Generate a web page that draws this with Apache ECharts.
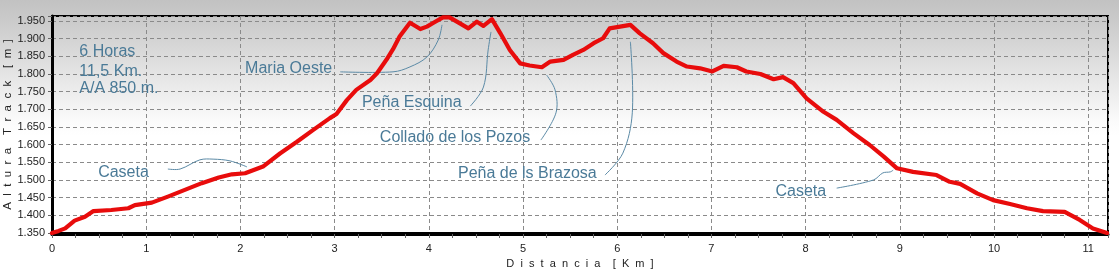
<!DOCTYPE html>
<html><head><meta charset="utf-8">
<script src="https://cdn.jsdelivr.net/npm/echarts@6/dist/echarts.min.js"></script>
<style>html,body{margin:0;padding:0;background:#fff}#c{width:1119px;height:271px}</style>
</head><body><div id="c"></div>
<script>
// Track profile: distance (km) and altitude (m)
const distKm = [0.00,0.07,0.14,0.24,0.35,0.44,0.63,0.81,0.88,1.06,1.23,1.41,1.59,1.77,1.91,2.05,2.24,2.42,2.60,2.77,2.95,3.02,3.13,3.23,3.38,3.45,3.55,3.62,3.69,3.80,3.91,3.98,4.05,4.15,4.22,4.33,4.42,4.51,4.58,4.67,4.76,4.86,4.97,5.07,5.20,5.29,5.43,5.53,5.64,5.75,5.85,5.92,6.03,6.14,6.24,6.38,6.49,6.63,6.74,6.88,7.01,7.13,7.27,7.37,7.52,7.66,7.76,7.87,8.01,8.19,8.33,8.51,8.68,8.83,8.97,9.14,9.39,9.53,9.64,9.82,9.99,10.17,10.35,10.52,10.75,10.91,11.05,11.20];
const altM   = [1350,1356,1363,1385,1396,1412,1415,1420,1429,1436,1453,1472,1491,1507,1516,1519,1538,1575,1608,1641,1675,1687,1726,1755,1783,1802,1840,1870,1906,1945,1927,1934,1945,1960,1960,1943,1929,1948,1936,1955,1915,1868,1830,1824,1819,1835,1840,1854,1868,1887,1901,1929,1934,1939,1915,1887,1859,1835,1821,1816,1807,1823,1819,1807,1800,1785,1791,1774,1731,1693,1670,1632,1599,1566,1533,1523,1514,1495,1489,1462,1443,1432,1420,1412,1410,1387,1363,1350];

const xAxisName = 'D  i  s  t  a  n  c  i  a    [  K  m  ]';
const yAxisName = 'A  l  t  u  r  a    T  r  a  c  k    [  m  ]';

// Annotation texts (anchored in data coordinates: km, m)
const noteTexts  = ['6 Horas', '11,5 Km.', 'A/A 850 m.', 'Maria Oeste', 'Peña Esquina', 'Collado de los Pozos', 'Peña de ls Brazosa', 'Caseta', 'Caseta'];
const noteAnchor = [[0.29,1862],[0.29,1808],[0.29,1758],[2.05,1814],[3.29,1718],[3.48,1619],[4.31,1517],[0.49,1521],[7.68,1467]];
// Leader curves (data coordinates)
const leaders = [
  [[3.06,1806],[3.62,1806],[3.80,1820],[3.98,1848],[4.10,1896],[4.14,1939]],
  [[4.44,1709],[4.58,1763],[4.63,1868],[4.66,1919]],
  [[5.19,1613],[5.35,1690],[5.34,1755],[5.25,1797]],
  [[5.87,1514],[6.06,1576],[6.16,1690],[6.14,1891]],
  [[1.23,1531],[1.36,1531],[1.57,1557],[1.71,1559],[1.89,1554],[2.07,1537]],
  [[8.33,1477],[8.72,1500],[8.82,1520],[8.90,1523],[8.93,1528]]
];

const chart = echarts.init(document.getElementById('c'), null, {renderer:'canvas'});
const fmtAlt = v => (v % 50 === 0) ? Math.floor(v/1000) + '.' + String(v % 1000).padStart(3,'0') : '';
chart.setOption({
  animation: false,
  backgroundColor: new echarts.graphic.LinearGradient(0,0,0,1,[
    {offset:0, color:'#c2c2c2'},
    {offset:0.08, color:'#cbcbcb'},
    {offset:0.45, color:'#fbfbfb'},
    {offset:0.5, color:'#ffffff'},
    {offset:1, color:'#ffffff'}
  ]),
  grid: {left:52, right:11, top:16, bottom:38, containLabel:false, outerBoundsMode:'none',
    show:true, borderColor:'#000', borderWidth:2, backgroundColor:'transparent'},
  xAxis: {
    type:'value', min:0, max:11.21, interval:1,
    offset: 1,
    name: xAxisName, nameLocation:'middle', nameGap:24, nameMoveOverlap:false,
    nameTextStyle:{fontFamily:'Liberation Sans, Arial', fontSize:11, color:'#222'},
    axisLine:{show:true, onZero:false, lineStyle:{color:'#000', width:3}},
    axisTick:{show:true, length:4, lineStyle:{color:'#666'}},
    minorTick:{show:true, splitNumber:4, length:4, lineStyle:{color:'#666'}},
    axisLabel:{margin:9, fontFamily:'Liberation Sans, Arial', fontSize:11, color:'#222',
      formatter: v => Math.abs(v-Math.round(v))<1e-6 ? String(Math.round(v)) : ''},
    splitLine:{show:true, lineStyle:{color:'#8a8a8a', type:[4,3], width:1}}
  },
  yAxis: {
    type:'value', min:1350, max:1964, interval:50,
    name: yAxisName, nameLocation:'middle', nameGap:38, nameRotate:90, nameMoveOverlap:false,
    nameTextStyle:{fontFamily:'Liberation Sans, Arial', fontSize:11.5, color:'#222'},
    axisLine:{show:true, lineStyle:{color:'#000', width:3}},
    axisTick:{show:true, length:4, lineStyle:{color:'#666'}},
    axisLabel:{margin:7, fontFamily:'Liberation Sans, Arial', fontSize:11, color:'#222', formatter: fmtAlt},
    splitLine:{show:true, lineStyle:{color:'#8a8a8a', type:[4,3], width:1}}
  },
  series: [{
    type:'line', z:5,
    data: distKm.map((d,i) => [d, altM[i]]),
    showSymbol:false, smooth:false,
    lineStyle:{color:'#e80c0c', width:4.2, join:'round', cap:'round'}
  }]
});

function buildNotes(){
  const g = [];
  leaders.forEach(pts => {
    g.push({type:'polyline', z:1, silent:true,
      shape:{points: pts.map(p => chart.convertToPixel({gridIndex:0}, p)), smooth:0.35},
      style:{stroke:'#5b8aa6', lineWidth:1, fill:null}});
  });
  noteTexts.forEach((t,i) => {
    const p = chart.convertToPixel({gridIndex:0}, noteAnchor[i]);
    g.push({type:'text', z:1, silent:true, x:p[0], y:p[1],
      style:{text:t, fill:'#4a7a97', font:'16px "Liberation Sans", Arial', align:'left', verticalAlign:'middle', textVerticalAlign:'middle'}});
  });
  chart.setOption({graphic: g});
}
buildNotes();
</script>
</body></html>
